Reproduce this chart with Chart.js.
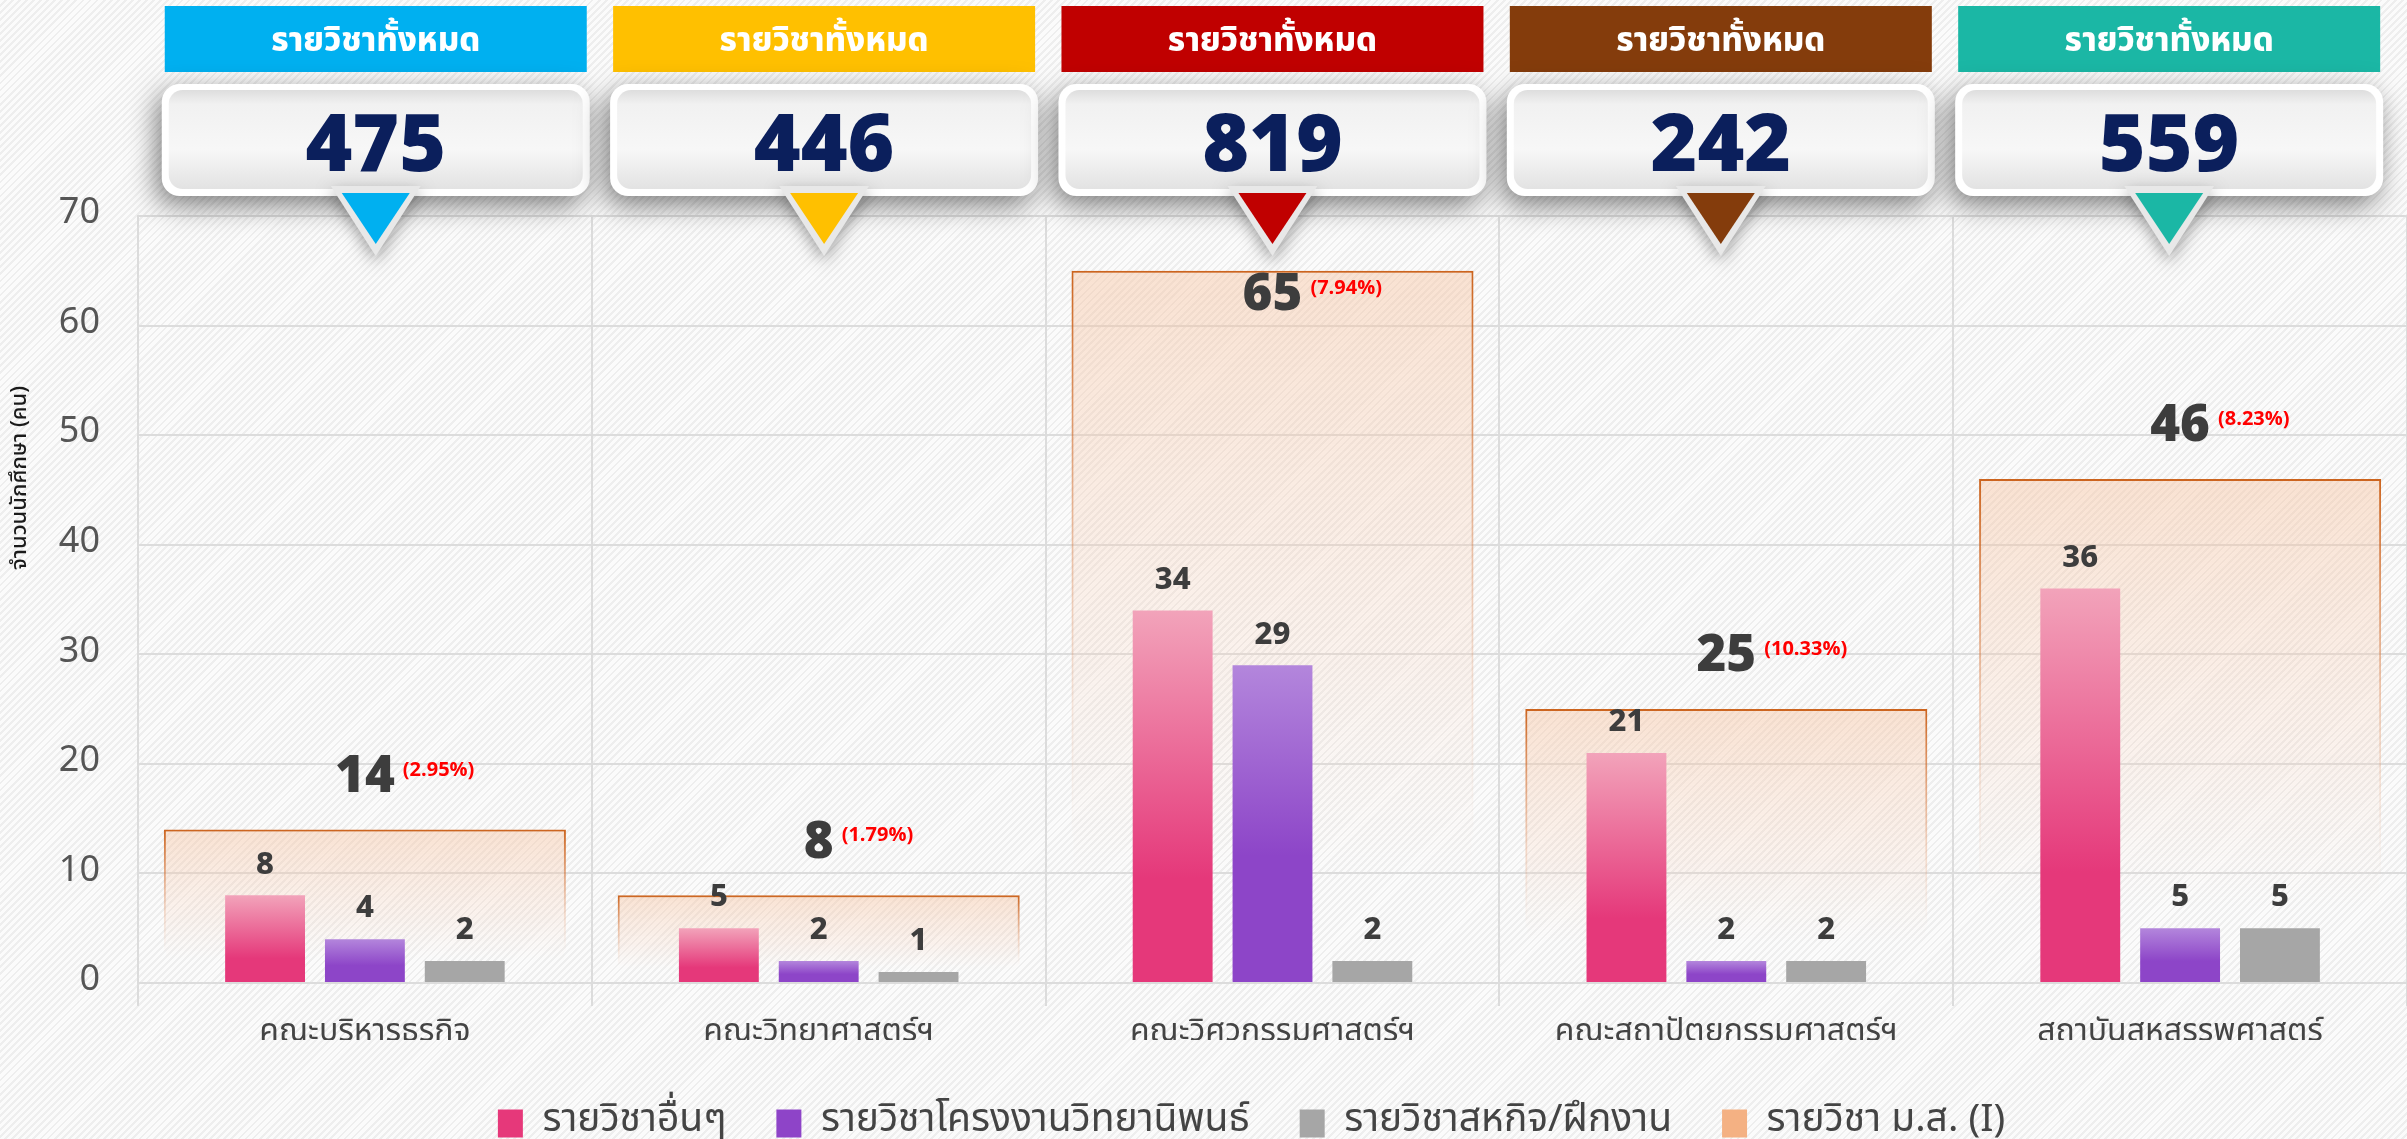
<!DOCTYPE html>
<html lang="th">
<head>
<meta charset="utf-8">
<title>จำนวนนักศึกษาตามรายวิชา</title>
<script src="https://cdn.jsdelivr.net/npm/chart.js@4.4.1/dist/chart.umd.min.js"></script>
<style>
  html, body { margin: 0; padding: 0; }
  body {
    width: 2407px; height: 1139px; overflow: hidden;
    background: repeating-linear-gradient(135deg, #fbfbfb 0px, #fbfbfb 3px, #eeeeee 3px, #eeeeee 5px);
  }
  #wrap { position: relative; width: 2407px; height: 1139px; }
</style>
</head>
<body>
<div id="wrap"><canvas id="chart"></canvas></div>
<script>
// --- DATA ---
const categories = ['คณะบริหารธุรกิจ', 'คณะวิทยาศาสตร์ฯ', 'คณะวิศวกรรมศาสตร์ฯ', 'คณะสถาปัตยกรรมศาสตร์ฯ', 'สถาบันสหสรรพศาสตร์'];
const otherCourses = [8, 5, 34, 21, 36];
const thesisCourses = [4, 2, 29, 2, 5];
const coopCourses = [2, 1, 2, 2, 5];
const msCourses = [14, 8, 65, 25, 46];
const msPercent = ['2.95%', '1.79%', '7.94%', '10.33%', '8.23%'];
const totalCourses = [475, 446, 819, 242, 559];
const seriesNames = ['รายวิชาอื่นๆ', 'รายวิชาโครงงานวิทยานิพนธ์', 'รายวิชาสหกิจ/ฝึกงาน', 'รายวิชา ม.ส. (I)'];
const cardTitle = 'รายวิชาทั้งหมด';
const yTitle = 'จำนวนนักศึกษา (คน)';
const yMax = 70;
const yStep = 10;

// --- STYLE ---
const cardColors = ['#00b0f0', '#ffc000', '#c00000', '#843c0c', '#1bb7a5'];
const legendColors = ['#e6387a', '#8e44c8', '#a6a6a6', '#f4b183'];
const FONT = '"Noto Sans Thai", "Noto Sans", "Open Sans", sans-serif';
const GRID = '#dcdcdc';

// vertical gradient spanning one bar, from its value down to zero
function barGradient(ctx, stops) {
    const chart = ctx.chart;
    if (!chart.chartArea || ctx.raw === undefined) return stops[stops.length - 1][1];
    const y = chart.scales.y;
    const top = y.getPixelForValue(ctx.raw);
    const bottom = y.getPixelForValue(0);
    const g = chart.ctx.createLinearGradient(0, top, 0, bottom);
    stops.forEach(s => g.addColorStop(s[0], s[1]));
    return g;
}

// --- TOP CARDS ---
function drawCard(ctx, cx, color, total) {
    const w = 422;
    const left = cx - w / 2;
    ctx.save();

    // header strip
    ctx.fillStyle = color;
    ctx.fillRect(left, 6, w, 66);
    ctx.fillStyle = '#ffffff';
    ctx.font = '800 33px ' + FONT;
    ctx.textAlign = 'center';
    ctx.textBaseline = 'middle';
    ctx.fillText(cardTitle, cx, 44);

    // white box with shadow
    ctx.save();
    ctx.shadowColor = 'rgba(0,0,0,0.5)';
    ctx.shadowBlur = 28;
    ctx.shadowOffsetX = -5;
    ctx.shadowOffsetY = 9;
    ctx.beginPath();
    ctx.roundRect(left - 3, 84, w + 6, 112, 18);
    ctx.fillStyle = '#ffffff';
    ctx.fill();
    ctx.restore();

    const g = ctx.createLinearGradient(0, 89, 0, 190);
    g.addColorStop(0, '#dcdcdc');
    g.addColorStop(0.15, '#f1f1f1');
    g.addColorStop(0.6, '#f7f7f7');
    g.addColorStop(1, '#e2e2e2');
    ctx.beginPath();
    ctx.roundRect(left + 4, 90, w - 8, 99, 14);
    ctx.fillStyle = g;
    ctx.fill();

    // pointer triangle
    ctx.save();
    ctx.shadowColor = 'rgba(0,0,0,0.35)';
    ctx.shadowBlur = 16;
    ctx.shadowOffsetY = 6;
    ctx.beginPath();
    ctx.moveTo(cx - 45, 186);
    ctx.lineTo(cx + 45, 186);
    ctx.lineTo(cx, 256);
    ctx.closePath();
    ctx.fillStyle = '#e8e8e8';
    ctx.fill();
    ctx.restore();
    ctx.beginPath();
    ctx.moveTo(cx - 34, 193);
    ctx.lineTo(cx + 34, 193);
    ctx.lineTo(cx, 244);
    ctx.closePath();
    ctx.fillStyle = color;
    ctx.fill();

    // total
    ctx.fillStyle = '#0b1f5c';
    ctx.font = '900 80px ' + FONT;
    ctx.fillText(String(total), cx, 155);
    ctx.restore();
}

const summaryCards = {
    id: 'summaryCards',
    afterDraw(chart) {
        const ctx = chart.ctx;
        const x = chart.scales.x;
        const area = chart.chartArea;
        // the cards sit on a slightly tighter pitch than the categories
        const mid = (area.left + area.right) / 2 - 3;
        totalCourses.forEach((total, i) => {
            const cx = mid + (x.getPixelForValue(i) - mid) * 0.988;
            drawCard(ctx, cx, cardColors[i], total);
        });

        // y axis title, placed like the original
        ctx.save();
        ctx.translate(22, 478);
        ctx.rotate(-Math.PI / 2);
        ctx.fillStyle = '#1a1a1a';
        ctx.font = '500 22px ' + FONT;
        ctx.textAlign = 'center';
        ctx.textBaseline = 'middle';
        ctx.fillText(yTitle, 0, 0);
        ctx.restore();
    }
};

// legend sits a little right of and below the default spot
const legendShift = {
    id: 'legendShift',
    afterLayout(chart) {
        const lg = chart.legend;
        lg.left += 48;
        lg.right += 48;
        lg.top += 14;
        lg.bottom += 14;
    }
};

// --- VALUE LABELS ---
const valueLabels = {
    id: 'valueLabels',
    afterDatasetsDraw(chart) {
        const { ctx, chartArea } = chart;
        ctx.save();
        ctx.textBaseline = 'middle';
        [0, 1, 2].forEach(di => {
            const values = chart.data.datasets[di].data;
            chart.getDatasetMeta(di).data.forEach((bar, i) => {
                ctx.font = '800 31px ' + FONT;
                ctx.fillStyle = '#3d3d3d';
                ctx.textAlign = 'center';
                ctx.fillText(String(values[i]), bar.x, bar.y - 28);
            });
        });
        chart.getDatasetMeta(3).data.forEach((bar, i) => {
            const y = Math.max(bar.y - 48, chartArea.top + 84);
            const txt = String(msCourses[i]);
            ctx.font = '900 51px ' + FONT;
            ctx.fillStyle = '#3d3d3d';
            ctx.textAlign = 'center';
            const w = ctx.measureText(txt).width;
            ctx.fillText(txt, bar.x, y);
            ctx.font = 'bold 20px ' + FONT;
            ctx.fillStyle = '#ff0000';
            ctx.textAlign = 'left';
            ctx.fillText('(' + msPercent[i] + ')', bar.x + w / 2 + 8, y - 10);
        });
        ctx.restore();
    }
};

// --- CHART ---
const chart = new Chart(document.getElementById('chart'), {
    type: 'bar',
    data: {
        labels: categories,
        datasets: [
            {
                label: seriesNames[0],
                data: otherCourses,
                backgroundColor: c => barGradient(c, [[0, '#f2a3ba'], [0.72, '#e5387a'], [1, '#e5387a']]),
                categoryPercentage: 0.66,
                barPercentage: 0.8
            },
            {
                label: seriesNames[1],
                data: thesisCourses,
                backgroundColor: c => barGradient(c, [[0, '#b386dc'], [0.6, '#8d45c8'], [1, '#8d45c8']]),
                categoryPercentage: 0.66,
                barPercentage: 0.8
            },
            {
                label: seriesNames[2],
                data: coopCourses,
                backgroundColor: '#a6a6a6',
                categoryPercentage: 0.66,
                barPercentage: 0.8
            },
            {
                label: seriesNames[3],
                data: msCourses,
                grouped: false,
                categoryPercentage: 1,
                barPercentage: 0.886,
                backgroundColor: c => barGradient(c, [[0, 'rgba(248,190,150,0.4)'], [0.55, 'rgba(248,205,180,0.2)'], [0.85, 'rgba(248,215,195,0)'], [1, 'rgba(248,215,195,0)']]),
                borderColor: c => barGradient(c, [[0, 'rgba(204,100,30,1)'], [0.5, 'rgba(224,140,90,0.35)'], [0.8, 'rgba(230,160,120,0)'], [1, 'rgba(230,160,120,0)']]),
                borderWidth: 2,
                borderSkipped: 'bottom'
            }
        ]
    },
    options: {
        responsive: true,
        maintainAspectRatio: false,
        animation: false,
        layout: { padding: { top: 216, left: 0, right: 0, bottom: 0 } },
        scales: {
            x: {
                grid: { color: GRID, lineWidth: 2, tickLength: 23, offset: true },
                border: { color: GRID, width: 2 },
                ticks: { color: '#444444', font: { family: FONT, size: 32 }, padding: 9 },
                afterFit: s => { s.height = 57; }
            },
            y: {
                min: 0,
                max: yMax,
                ticks: { stepSize: yStep, color: '#555555', font: { family: FONT, size: 36 }, padding: 38 },
                grid: { color: GRID, lineWidth: 2, drawTicks: false },
                border: { color: GRID, width: 2 },
                afterFit: s => { s.width = 138; }
            }
        },
        plugins: {
            tooltip: { enabled: false },
            legend: {
                position: 'bottom',
                labels: {
                    color: '#444444',
                    font: { family: FONT, size: 39 },
                    boxWidth: 25,
                    boxHeight: 28,
                    padding: 50,
                    generateLabels: ch => ch.data.datasets.map((ds, i) => ({
                        text: ds.label,
                        fillStyle: legendColors[i],
                        strokeStyle: legendColors[i],
                        lineWidth: 0,
                        fontColor: '#444444',
                        datasetIndex: i
                    }))
                }
            }
        }
    },
    plugins: [valueLabels, summaryCards, legendShift]
});
</script>
</body>
</html>
